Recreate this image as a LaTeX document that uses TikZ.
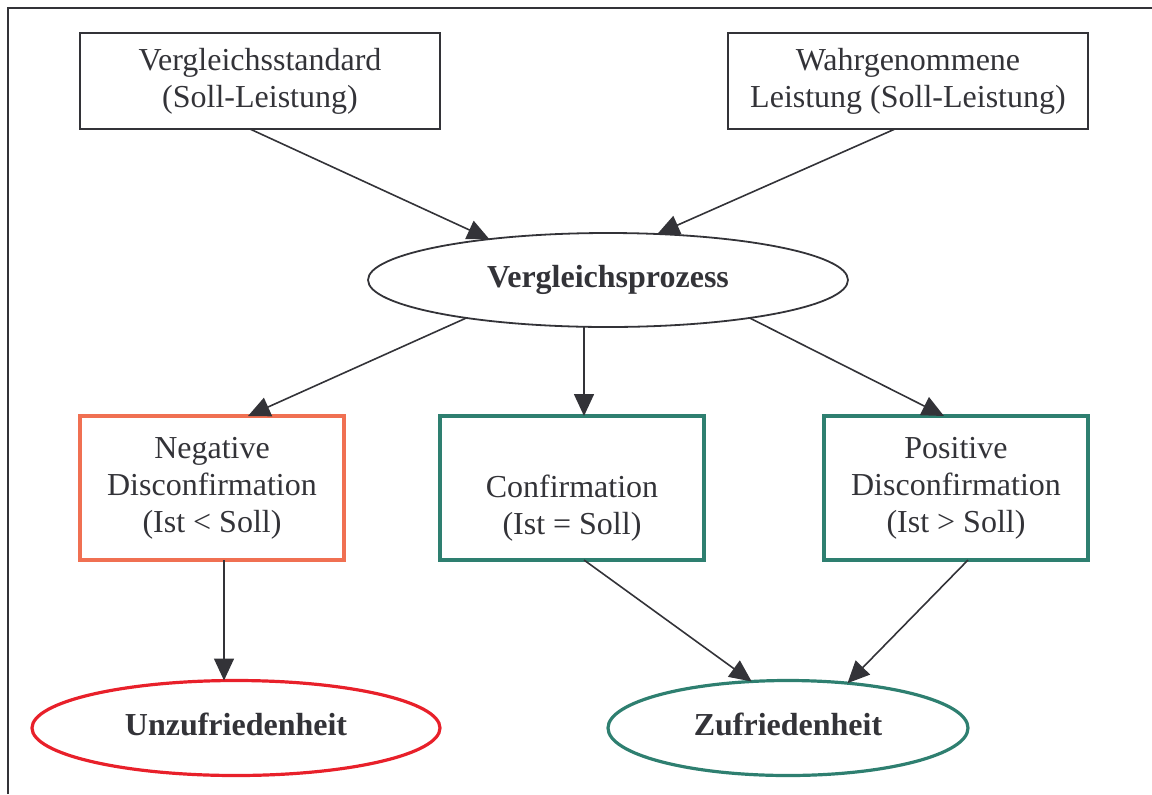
\documentclass[tikz,border=0pt]{standalone}
\usepackage{fontspec}
\setmainfont{Liberation Serif}
\usepackage{xcolor}
\usetikzlibrary{arrows.meta,shapes.geometric}
\definecolor{inkgray}{HTML}{333338}
\definecolor{negorange}{HTML}{F07052}
\definecolor{okteal}{HTML}{2E7F70}
\definecolor{badred}{HTML}{E8202A}
\tikzset{%
    every box/.style={
            rectangle,
            draw=inkgray,
            line width=0.9pt,
            text=inkgray,
            align=center,
            inner sep=0pt,
            outer sep=0pt,
            font=\fontsize{16}{18.5}\selectfont
        },
    box neg/.style={draw=negorange, line width=1.6pt},
    box ok/.style={draw=okteal, line width=1.6pt},
    every oval/.style={
            ellipse,
            draw=inkgray,
            line width=0.9pt,
            text=inkgray,
            inner sep=0pt,
            outer sep=0pt,
            font=\fontsize{16}{18.5}\selectfont\bfseries
        },
    arr/.style={draw=inkgray, line width=0.8pt, -{Triangle[length=11pt,width=10pt]}},
}

\begin{document}
\begin{tikzpicture}[x=0.5pt, y=-0.5pt]
        \useasboundingbox (0,0) rectangle (1152,794);

        % frame
        \draw [inkgray, line width=1pt] (8,794) -- (8,8) -- (1152,8);

        % inputs
        \node [every box, minimum width=180pt, minimum height=48pt] (std) at (260,81)
        {Vergleichsstandard\\(Soll-Leistung)};
        \node [every box, minimum width=180pt, minimum height=48pt] (wahr) at (908,81)
        {Wahrgenommene\\Leistung (Soll-Leistung)};

        \node [every oval, minimum width=240pt, minimum height=47pt] (proz) at (608,280)
        {Vergleichsprozess};

        % disconfirmation
        \foreach \m/\x/\t in {neg/212/{Negative\\Disconfirmation\\(Ist < Soll)},
                              ok/572/{\strut\\Confirmation\\(Ist = Soll)},
                              pos/956/{Positive\\Disconfirmation\\(Ist > Soll)}}
        \node [every box, box ok, box \m/.try, minimum width=132pt, minimum height=72pt]
        (dis-\m) at (\x,488) {\t};

        % results
        \node [every oval, draw=badred, line width=1.6pt, minimum width=204pt, minimum height=47.5pt]
        (unz) at (236,728) {\raisebox{3.5pt}{Unzufriedenheit}};
        \node [every oval, draw=okteal, line width=1.6pt, minimum width=180pt, minimum height=47.5pt]
        (zuf) at (788,728) {\raisebox{3.5pt}{Zufriedenheit}};

        \draw [arr] ([xshift=-5pt]std.south) -- (proz.161);
        \draw [arr] ([xshift=-6.5pt]wahr.south) -- (proz.43);

        \draw [arr] (proz.-165) -- ([xshift=18pt]dis-neg.north);
        \draw [arr] ([xshift=6pt]dis-ok.north |- proz.south) -- ([xshift=6pt]dis-ok.north);
        \draw [arr] (proz.-15) -- ([xshift=-6pt]dis-pos.north);

        \draw [arr] ([xshift=6pt]dis-neg.south) -- ([xshift=6pt]dis-neg.south |- unz.north);
        \draw [arr] ([xshift=6pt]dis-ok.south) -- (zuf.128);
        \draw [arr] ([xshift=6pt]dis-pos.south) -- (zuf.37);

    \end{tikzpicture}
\end{document}
